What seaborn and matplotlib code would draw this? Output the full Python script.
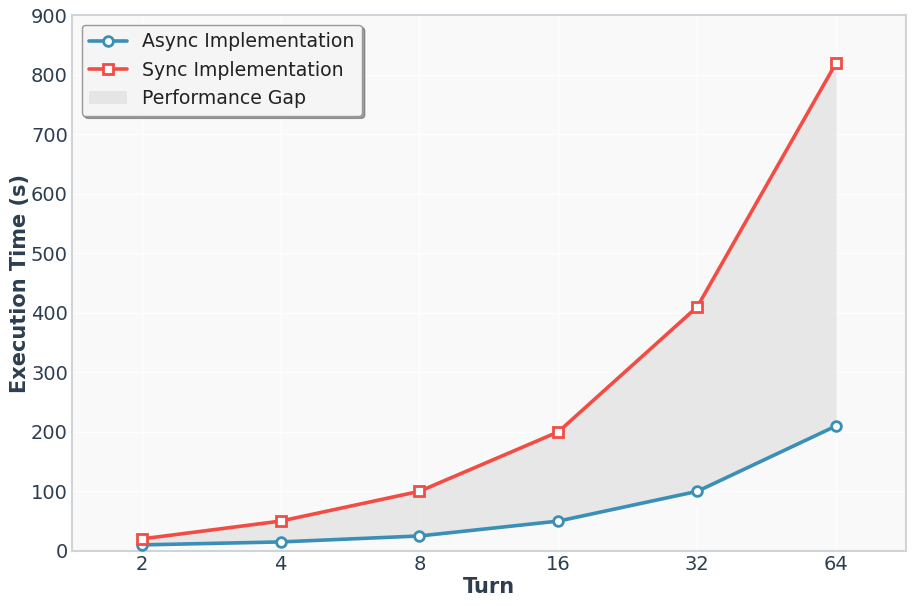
import matplotlib
matplotlib.use("Agg")
import matplotlib.pyplot as plt
import seaborn as sns
import pandas as pd
import numpy as np

turns = ["2", "4", "8", "16", "32", "64"]
async_times = [10, 15, 25, 50, 100, 210]
sync_times = [20, 50, 100, 200, 410, 820]

sns.set_style("whitegrid", {
    "axes.facecolor": "#f9f9f9",
    "axes.edgecolor": "#d0d4d9",
    "grid.color": "#ffffff",
})
plt.rcParams["font.family"] = ["DejaVu Sans"]
text_color = "#2c3e50"
c_async = "#3a8fb7"
c_sync = "#f24d45"

fig, ax = plt.subplots(figsize=(9.13, 6.06), dpi=100)
fig.patch.set_facecolor("white")

pos = np.arange(len(turns))
df_async = pd.DataFrame({"pos": pos, "time": async_times})
df_sync = pd.DataFrame({"pos": pos, "time": sync_times})

ax.fill_between(pos, async_times, sync_times, color="#d9d9d9", alpha=0.55,
                linewidth=0, label="Performance Gap", zorder=1)
sns.lineplot(data=df_async, x="pos", y="time", color=c_async, marker="o",
             linewidth=2.6, markersize=7, markerfacecolor="white",
             markeredgecolor=c_async, markeredgewidth=2,
             label="Async Implementation", ax=ax, zorder=3)
sns.lineplot(data=df_sync, x="pos", y="time", color=c_sync, marker="s",
             linewidth=2.6, markersize=7, markerfacecolor="white",
             markeredgecolor=c_sync, markeredgewidth=2,
             label="Sync Implementation", ax=ax, zorder=3)
for ln in ax.lines:
    ln.set_markeredgecolor(ln.get_color())

ax.set_xlim(-0.5, len(turns) - 0.5)
ax.set_ylim(0, 900)
ax.set_xticks(pos)
ax.set_xticklabels(turns)
ax.set_yticks(np.arange(0, 901, 100))
ax.tick_params(axis="both", labelsize=14, colors=text_color, length=0, pad=3)
ax.set_xlabel("Turn", fontsize=15, fontweight="bold", color=text_color, labelpad=2)
ax.set_ylabel("Execution Time (s)", fontsize=15, fontweight="bold", color=text_color, labelpad=1)
for s in ax.spines.values():
    s.set_visible(True)
    s.set_color("#d0d4d9")
    s.set_linewidth(1.5)
ax.grid(True, color="#ffffff", linewidth=1, alpha=0.9)

handles, labels = ax.get_legend_handles_labels()
order = [labels.index("Async Implementation"), labels.index("Sync Implementation"), labels.index("Performance Gap")]
leg = ax.legend([handles[i] for i in order], [labels[i] for i in order],
                loc="upper left", fontsize=13.6, frameon=True, fancybox=True,
                shadow=True, facecolor="#f5f5f5", edgecolor="#999999", framealpha=1)
for t in leg.get_texts():
    t.set_color("#222222")
for h in leg.legend_handles:
    if hasattr(h, "set_markeredgecolor"):
        h.set_markeredgecolor(h.get_color())

fig.subplots_adjust(left=0.079, right=0.992, top=0.975, bottom=0.091)
fig.savefig("out.png", dpi=100)
